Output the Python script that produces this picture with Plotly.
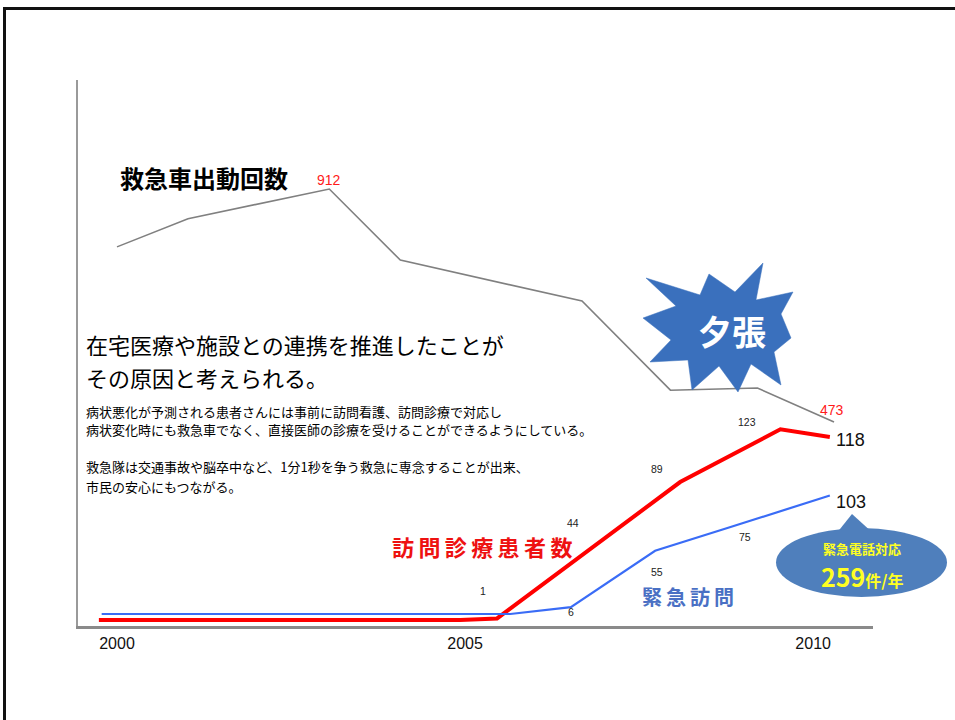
import math
import plotly.graph_objects as go

# ---------------- data ----------------
amb_years = [2000.0, 2001.02, 2003.05, 2004.07, 2006.68, 2007.95, 2009.2, 2010.3]
amb_runs = [803, 856, 912, 778, 701, 533, 537, 473]          # 救急車出動回数

visit_years = [1999.74, 2004.93, 2005.46, 2006.74, 2008.09, 2009.53, 2010.24]
visit_patients = [0, 0, 1, 44, 89, 123, 118]                  # 訪問診療患者数

emerg_years = [1999.78, 2005.65, 2006.52, 2007.73, 2008.78, 2010.24]
emerg_visits = [0, 0, 6, 55, 75, 103]                         # 緊急訪問

tick_years = [2000, 2005, 2010]
tick_labels = ["2000", "2005", "2010"]

# ---------------- layout helpers ----------------
W, H = 955, 720
L, R, T, B = 78, 873, 80, 626
FONT = "Liberation Sans, Arial, Noto Sans CJK JP"
JP = "Noto Sans CJK JP, Liberation Sans"


def P(px, py):
    return (px - L) / (R - L), (B - py) / (B - T)


fig = go.Figure()
fig.add_trace(go.Scatter(x=amb_years, y=amb_runs, mode="lines", yaxis="y",
                         line=dict(color="#808080", width=1.6), hoverinfo="skip"))
fig.add_trace(go.Scatter(x=visit_years, y=visit_patients, mode="lines", yaxis="y2",
                         line=dict(color="#ff0000", width=4), hoverinfo="skip"))
fig.add_trace(go.Scatter(x=emerg_years, y=emerg_visits, mode="lines", yaxis="y3",
                         line=dict(color="#3a6cf6", width=2.2), hoverinfo="skip"))

ann = []

# data labels
def dlabel(x, y, yref, text, xs, ys, size=10.5, color="#222", xanchor="center"):
    ann.append(dict(x=x, y=y, xref="x", yref=yref, text=text, showarrow=False,
                    xshift=xs, yshift=ys, xanchor=xanchor, yanchor="middle",
                    font=dict(family=FONT, size=size, color=color)))

dlabel(amb_years[2], amb_runs[2], "y", str(amb_runs[2]), 0, 9, size=14, color="#ff1a1a")
dlabel(amb_years[-1], amb_runs[-1], "y", str(amb_runs[-1]), -2, 12, size=14, color="#ff1a1a")

red_shifts = {2: (-14, 27), 3: (-13, 29), 4: (-23, 13), 5: (-33, 7)}
for i, (xs, ys) in red_shifts.items():
    dlabel(visit_years[i], visit_patients[i], "y2", str(visit_patients[i]), xs, ys)
dlabel(visit_years[-1], visit_patients[-1], "y2", str(visit_patients[-1]), 4, -3,
       size=18, color="#111", xanchor="left")

blue_shifts = {2: (0, -5), 3: (2, -21), 4: (17, -9)}
for i, (xs, ys) in blue_shifts.items():
    dlabel(emerg_years[i], emerg_visits[i], "y3", str(emerg_visits[i]), xs, ys)
dlabel(emerg_years[-1], emerg_visits[-1], "y3", str(emerg_visits[-1]), 4, -6,
       size=18, color="#111", xanchor="left")

# slide texts
def ptext(px, py, text, size, color="#000", xanchor="left", family=JP):
    x, y = P(px, py)
    ann.append(dict(x=x, y=y, xref="paper", yref="paper", text=text, showarrow=False,
                    xanchor=xanchor, yanchor="middle",
                    font=dict(family=family, size=size, color=color)))

ptext(118, 177, "<b>救急車出動回数</b>", 24)
ptext(84, 344, "在宅医療や施設との連携を推進したことが", 22)
ptext(84, 377, "その原因と考えられる。", 22)
ptext(84, 411, "病状悪化が予測される患者さんには事前に訪問看護、訪問診療で対応し", 13)
ptext(84, 430, "病状変化時にも救急車でなく、直接医師の診療を受けることができるようにしている。", 13)
ptext(84, 467, "救急隊は交通事故や脳卒中など、1分1秒を争う救急に専念することが出来、", 13)
ptext(84, 486, "市民の安心にもつながる。", 13)

sp = "\u2009"
ptext(482, 546, "<b>" + sp.join("訪問診療患者数") + "</b>", 22, color="#ee1111", xanchor="center")
ptext(688, 596, "<b>" + sp.join("緊急訪問") + "</b>", 20, color="#4a70c4", xanchor="center")

# shapes
shapes = []
# slide frame: only the top and left edges fall inside the page
fr = [(955, 8.5), (4.5, 8.5), (4.5, 720)]
frame_path = "M " + " L ".join("%.5f,%.5f" % P(px, py) for px, py in fr)
shapes.append(dict(type="path", xref="paper", yref="paper", path=frame_path,
                   line=dict(color="#111", width=3), layer="above"))

# starburst
star_px = [(763, 263), (756, 300), (793, 292), (781, 314), (791, 338), (774, 352),
           (781, 385), (751, 364), (738, 392), (719, 366), (692, 390), (688, 360),
           (650, 362), (671, 340), (643, 318), (676, 306), (646, 278), (700, 295),
           (709, 274), (735, 292)]
path = "M " + " L ".join("%.5f,%.5f" % P(px, py) for px, py in star_px) + " Z"
shapes.append(dict(type="path", xref="paper", yref="paper", path=path,
                   fillcolor="#3a70bd", line=dict(color="#3a70bd", width=0.5), layer="above"))

# callout ellipse + pointer
ex0, ey0 = P(776, 528)
ex1, ey1 = P(947, 597)
shapes.append(dict(type="circle", xref="paper", yref="paper", x0=ex0, y0=ey1, x1=ex1, y1=ey0,
                   fillcolor="#4f7fbc", line=dict(width=0), layer="above"))
tri = [(836, 534), (852, 514), (874, 534)]
path2 = "M " + " L ".join("%.5f,%.5f" % P(px, py) for px, py in tri) + " Z"
shapes.append(dict(type="path", xref="paper", yref="paper", path=path2,
                   fillcolor="#4f7fbc", line=dict(width=0), layer="above"))

ptext(732, 330, "<b>夕張</b>", 34, color="#ffffff", xanchor="center")
ptext(862, 548, "<b>緊急電話対応</b>", 13, color="#ffff22", xanchor="center")
ptext(862, 576, "<b><span style='font-size:25px'>259</span>件/年</b>", 16, color="#ffff22",
      xanchor="center")

fig.update_layout(
    width=W, height=H, autosize=False,
    margin=dict(l=L, r=W - R, t=T, b=H - B, pad=0),
    paper_bgcolor="#ffffff", plot_bgcolor="#ffffff",
    showlegend=False,
    xaxis=dict(range=[1999.44, 2010.86], showgrid=False, zeroline=False,
               showline=True, linecolor="#8a8a8a", linewidth=3,
               tickvals=tick_years, ticktext=tick_labels, ticks="",
               ticklabelstandoff=1,
               tickfont=dict(family=FONT, size=16, color="#111")),
    yaxis=dict(range=[88.7, 1117.4], showgrid=False, zeroline=False, showline=True,
               linecolor="#9a9a9a", linewidth=2, showticklabels=False, ticks=""),
    yaxis2=dict(range=[-3.87, 348.39], overlaying="y", visible=False),
    yaxis3=dict(range=[-10.43, 464.35], overlaying="y", visible=False),
    annotations=ann,
    shapes=shapes,
)

fig.write_html(
    "out.html",
    config={"displayModeBar": False},
    post_script="document.documentElement.style.overflow='hidden';"
                "document.body.style.overflow='hidden';document.body.style.margin='0';",
)
